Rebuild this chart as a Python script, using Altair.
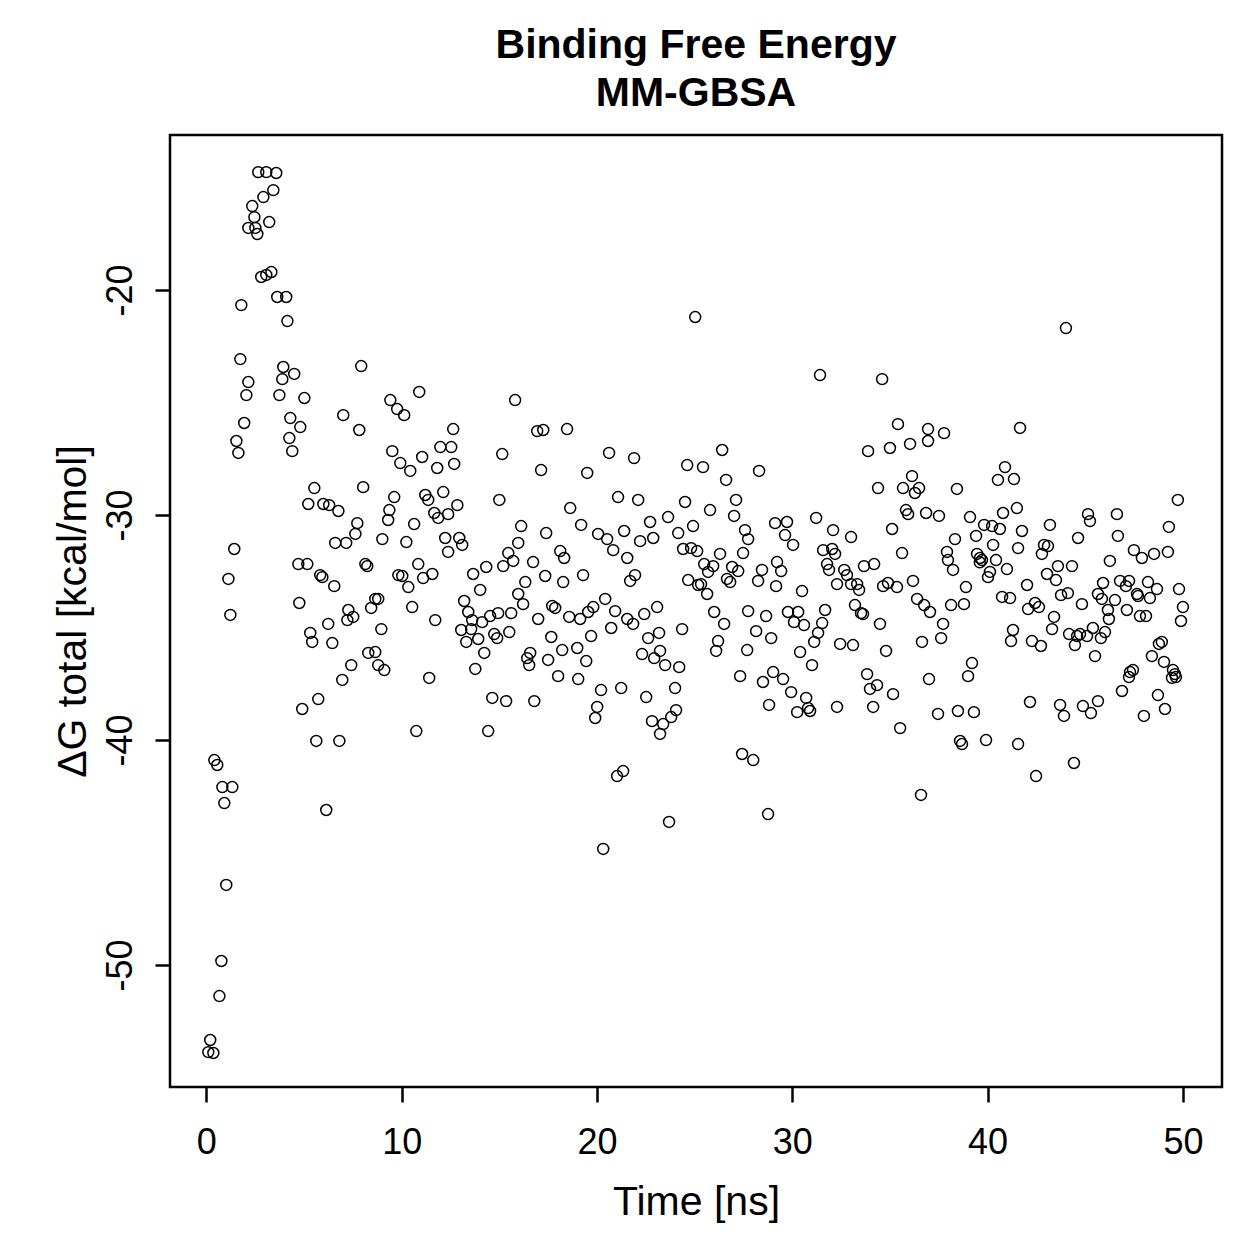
import altair as alt
import pandas as pd

# Time [ns] and ΔG total [kcal/mol]
time_ns = [
    0.20, 0.10, 0.36, 0.67, 0.77, 1.02, 0.92, 0.82, 1.33, 0.41, 0.56, 1.13, 1.23, 1.43, 1.54, 1.64,
    1.79, 1.74, 1.94, 2.05, 2.15, 2.66, 3.07, 3.58, 3.43, 2.92, 2.35, 2.46, 3.22, 2.15, 2.51, 2.61,
    2.81, 3.07, 3.33, 3.63, 4.09, 4.15, 3.94, 3.89, 4.50, 3.74, 5.02, 4.30, 4.81, 4.25, 4.40, 4.71,
    5.17, 4.76, 4.91,
    7.93, 7.01, 7.83, 5.53, 8.03, 5.22, 5.99, 6.29, 6.76, 7.73, 7.63, 6.60, 7.16, 9.01, 5.83, 5.94,
    6.55, 8.14, 8.24, 7.27, 7.22, 7.52, 8.44, 8.65, 8.80, 6.24, 5.32, 5.42, 6.45, 8.96, 8.29, 8.65,
    8.80, 9.11, 7.42, 6.96, 5.73, 5.63, 6.81, 6.14,
    10.90, 9.42, 9.77, 10.13, 12.64, 11.98, 12.54, 9.52, 9.93, 10.44, 11.05, 11.82, 12.69, 9.62,
    11.21, 11.36, 12.13, 9.37, 9.31, 10.64, 11.67, 11.87, 12.38, 12.85, 10.24, 12.23, 12.38, 12.95,
    13.10, 10.85, 9.83, 10.03, 10.34, 11.10, 11.57, 13.66, 10.54, 11.72, 13.20, 13.41, 13.61, 13.56,
    13.05, 13.31, 13.92, 11.41, 13.77, 10.75,
    15.81, 16.94, 17.25, 18.47, 15.15, 17.14, 15.00, 18.63, 16.12, 17.40, 15.97, 15.46, 15.71, 15.20,
    14.33, 18.12, 18.32, 16.73, 16.33, 17.35, 18.27, 15.97, 16.22, 14.02, 15.61, 14.94, 14.53, 14.12,
    16.99, 17.71, 17.86, 18.58, 14.74, 14.89, 15.51, 17.66, 14.23, 16.58, 16.43, 16.53, 17.50, 18.22,
    18.01, 14.64, 15.35, 16.79, 14.43,
    20.62, 21.90, 19.50, 21.08, 22.11, 19.19, 22.72, 20.06, 20.52, 20.83, 21.39, 22.21, 22.88, 21.55,
    21.95, 21.70, 19.29, 20.42, 20.93, 19.81, 19.55, 19.14, 20.73, 19.70, 21.55, 21.85, 22.42, 23.08,
    22.62, 23.18, 22.31, 22.93, 18.99, 19.45, 19.04, 20.21, 21.24, 22.52, 20.01, 19.91, 22.82, 23.23,
    21.34, 21.03, 20.32,
    25.03, 26.41, 24.62, 25.43, 26.61, 24.51, 27.12, 27.02, 25.79, 23.64, 24.16, 24.92, 27.58, 27.74,
    24.41, 24.82, 25.13, 26.30, 27.48, 25.49, 25.95, 25.69, 26.92, 27.23, 24.67, 25.18, 25.33, 25.64,
    26.66, 26.82, 26.00, 26.51, 27.74, 24.36, 23.23, 23.49, 24.21, 26.20, 26.10, 27.69, 24.00, 27.33,
    24.05, 23.80, 23.39, 27.43, 23.69,
    31.42, 28.30, 29.12, 29.73, 31.22, 29.63, 30.04, 32.09, 31.58, 32.04, 32.19, 31.78, 31.88, 29.22,
    29.43, 28.45, 28.25, 29.17, 30.50, 32.29, 28.66, 29.78, 30.30, 30.09, 30.60, 31.68, 31.53, 31.32,
    31.12, 28.15, 28.92, 30.40, 31.01, 32.45, 29.02, 29.53, 28.50, 29.94, 30.71, 30.81, 30.91, 30.25,
    28.81, 32.29, 28.00, 28.76,
    34.60, 35.41, 36.95, 36.95, 33.88, 35.00, 36.03, 36.13, 34.39, 35.67, 36.28, 36.49, 35.82, 35.93,
    36.85, 35.11, 33.01, 35.62, 33.67, 34.19, 32.66, 32.80, 33.01, 33.32, 33.42, 34.65, 34.90, 35.36,
    36.18, 36.39, 36.75, 37.05, 33.21, 33.52, 33.62, 34.49, 33.11, 34.80, 36.64, 33.83, 33.98, 34.34,
    35.16, 37.00, 34.14, 35.52, 36.59,
    37.77, 41.66, 40.89, 40.53, 41.35, 38.43, 37.51, 39.10, 40.79, 41.50, 39.82, 40.23, 40.63, 39.41,
    38.33, 41.76, 41.56, 40.28, 37.92, 37.97, 38.23, 39.46, 39.61, 39.71, 39.60, 40.43, 40.12, 40.02,
    40.99, 38.89, 40.74, 41.15, 38.13, 38.79, 37.72, 37.62, 41.30, 41.20, 39.20, 39.00, 37.46, 38.48,
    39.30, 38.59, 38.69, 39.92, 41.56,
    44.01, 43.19, 45.14, 45.24, 44.63, 42.89, 43.09, 42.78, 43.60, 44.32, 43.04, 43.50, 42.02, 43.76,
    44.11, 44.83, 42.43, 42.63, 42.07, 46.26, 45.91, 45.65, 45.85, 46.16, 46.21, 43.40, 43.30, 44.17,
    44.58, 44.73, 45.09, 44.47, 45.39, 45.80, 46.01, 42.27, 42.73, 45.50, 42.17, 43.71, 43.91, 44.88,
    45.29, 45.65, 42.48, 44.42,
    49.74, 46.62, 49.28, 46.67, 47.49, 47.90, 48.52, 49.23, 46.78, 47.08, 47.24, 48.21, 48.67, 47.65,
    47.70, 48.31, 49.80, 46.52, 47.13, 47.80, 48.11, 50.00, 49.90, 48.41, 48.77, 48.92, 49.03, 49.49,
    49.59, 49.44, 49.64, 47.29, 47.44, 47.24, 46.88, 48.72, 49.08, 48.00,
]

delta_g = [
    -53.33, -53.87, -53.91, -51.38, -49.82, -46.44, -42.80, -42.09, -42.09, -40.89, -41.11, -32.84,
    -34.44, -31.51, -26.71, -27.24, -20.67, -23.07, -25.91, -24.67, -24.09, -14.76, -14.76, -14.80,
    -15.56, -15.87, -16.27, -16.76, -16.98, -17.24, -17.24, -17.51, -19.42, -19.33, -19.20, -20.31,
    -20.31, -21.38, -23.42, -23.96, -23.73, -24.67, -24.80, -25.69, -26.09, -26.58, -27.16, -32.18,
    -32.18, -33.91, -38.62,
    -23.38, -25.56, -26.22, -28.80, -28.76, -29.51, -29.51, -29.56, -29.82, -30.36, -30.84, -31.24,
    -31.24, -31.07, -32.67, -32.76, -33.16, -32.18, -32.27, -34.22, -34.67, -34.53, -34.13, -33.73,
    -33.73, -34.84, -35.24, -35.64, -35.69, -35.07, -36.13, -36.09, -36.67, -36.89, -36.67, -37.33,
    -38.18, -40.04, -40.04, -43.11,
    -24.53, -24.89, -25.29, -25.56, -26.18, -26.98, -26.98, -27.16, -27.69, -28.04, -27.42, -27.91,
    -27.73, -29.20, -29.11, -29.33, -28.98, -29.78, -30.22, -30.40, -29.91, -30.13, -29.96, -29.56,
    -31.20, -31.02, -31.64, -31.02, -31.33, -32.18, -32.67, -32.71, -33.20, -32.80, -32.62, -32.62,
    -34.09, -34.67, -33.82, -34.31, -34.67, -35.07, -35.11, -35.64, -35.51, -37.24, -36.84, -39.60,
    -24.89, -26.27, -26.22, -26.18, -27.29, -28.00, -29.33, -29.69, -30.49, -30.80, -31.24, -31.69,
    -32.04, -32.27, -32.31, -31.60, -31.91, -32.09, -32.98, -32.71, -32.98, -33.51, -33.96, -33.33,
    -34.36, -34.36, -34.49, -34.76, -34.62, -34.04, -34.13, -34.53, -35.29, -35.47, -35.20, -35.42,
    -36.13, -36.13, -36.36, -36.67, -36.44, -36.00, -37.16, -38.13, -38.27, -38.27, -39.60,
    -27.24, -27.47, -28.13, -29.20, -29.33, -30.44, -30.31, -30.84, -31.07, -31.56, -30.71, -31.16,
    -31.02, -31.91, -32.67, -32.93, -32.67, -33.73, -34.27, -34.09, -34.31, -34.62, -35.02, -35.38,
    -34.62, -34.84, -34.40, -34.09, -35.47, -35.24, -36.18, -36.36, -35.91, -36.49, -37.29, -37.78,
    -37.69, -38.09, -38.53, -39.02, -39.16, -39.73, -41.38, -41.60, -44.84,
    -21.20, -27.11, -27.78, -27.87, -28.44, -29.42, -29.33, -30.04, -29.78, -30.09, -30.80, -30.49,
    -30.67, -31.07, -31.51, -31.47, -31.60, -31.73, -31.69, -32.18, -32.27, -32.53, -32.31, -32.49,
    -32.89, -33.11, -33.07, -33.51, -32.84, -32.98, -34.31, -34.84, -34.27, -35.07, -36.04, -36.67,
    -36.76, -35.60, -36.04, -36.00, -37.69, -37.16, -38.67, -38.98, -39.29, -40.62, -43.64,
    -23.78, -28.04, -30.36, -30.31, -30.13, -30.89, -31.33, -30.67, -31.56, -31.51, -31.73, -32.18,
    -32.44, -32.09, -32.49, -32.44, -32.93, -33.16, -33.38, -33.07, -34.49, -34.31, -34.31, -34.76,
    -34.89, -34.22, -34.80, -35.24, -35.64, -35.16, -35.47, -36.09, -36.67, -35.73, -36.98, -37.29,
    -37.42, -37.87, -38.13, -38.58, -38.71, -38.76, -38.44, -38.53, -40.89, -43.29,
    -23.96, -25.96, -26.18, -26.71, -27.16, -27.02, -26.84, -28.27, -28.80, -28.80, -29.02, -28.80,
    -29.78, -29.96, -29.91, -30.62, -30.98, -31.69, -32.27, -32.18, -32.44, -32.67, -33.07, -33.07,
    -33.33, -33.16, -33.02, -33.20, -32.93, -33.73, -34.00, -34.31, -34.00, -34.36, -34.40, -34.84,
    -35.78, -36.04, -35.64, -37.07, -37.73, -37.56, -37.96, -37.29, -38.53, -39.47, -42.44,
    -26.36, -26.13, -27.87, -28.44, -28.40, -28.84, -30.04, -30.09, -29.91, -29.69, -30.44, -30.49,
    -30.62, -30.93, -31.07, -30.71, -31.47, -31.33, -31.64, -32.00, -32.44, -31.73, -31.91, -32.00,
    -32.10, -32.00, -32.53, -32.76, -32.40, -33.20, -33.64, -33.69, -34.00, -33.96, -34.84, -35.47,
    -35.11, -35.60, -36.58, -37.16, -38.84, -38.71, -38.76, -40.04, -40.18, -40.00, -40.18,
    -21.69, -30.44, -29.96, -30.27, -31.02, -31.33, -31.38, -31.73, -32.27, -32.27, -32.62, -32.89,
    -33.11, -33.56, -33.47, -33.96, -33.91, -34.09, -34.18, -32.04, -33.02, -33.51, -33.73, -34.22,
    -34.62, -34.53, -35.07, -35.29, -35.38, -35.29, -35.38, -35.78, -35.02, -35.47, -35.20, -35.60,
    -35.82, -36.27, -38.31, -38.44, -38.93, -38.49, -38.80, -38.27, -41.60, -41.02,
    -29.33, -29.96, -30.53, -30.93, -31.56, -31.91, -31.73, -31.64, -32.93, -33.16, -32.93, -32.98,
    -33.29, -33.51, -33.60, -33.69, -33.29, -33.78, -34.22, -34.49, -34.49, -34.09, -34.71, -36.27,
    -35.73, -35.64, -36.53, -36.89, -37.07, -37.24, -37.20, -36.98, -36.89, -37.20, -37.82, -38.00,
    -38.62, -38.93,
]

x_ticks = [0, 10, 20, 30, 40, 50]
y_ticks = [-50, -40, -30, -20]

df = pd.DataFrame({"time": time_ns, "dg": delta_g})

FONT = "Liberation Sans"

points = alt.Chart(df).mark_point(
    shape="circle", filled=False, color="black", size=120, strokeWidth=1.5, opacity=1
).encode(
    x=alt.X(
        "time:Q",
        scale=alt.Scale(domain=[-1.86, 52.0], nice=False, zero=False),
        axis=alt.Axis(
            values=x_ticks, title="Time [ns]", grid=False, domain=False,
            tickSize=15, tickWidth=2.5, tickColor="black",
            labelFontSize=36, titleFontSize=41, labelFont=FONT, titleFont=FONT,
            labelColor="black", titleColor="black", titleFontWeight="normal",
            labelPadding=23, titlePadding=22, labelFlush=False,
            labelExpr="'' + datum.value",
        ),
    ),
    y=alt.Y(
        "dg:Q",
        scale=alt.Scale(domain=[-55.42, -13.11], nice=False, zero=False),
        axis=alt.Axis(
            values=y_ticks, title="ΔG total [kcal/mol]", grid=False, domain=False,
            tickSize=15, tickWidth=2.5, tickColor="black",
            labelFontSize=36, titleFontSize=41, labelFont=FONT, titleFont=FONT,
            labelColor="black", titleColor="black", titleFontWeight="normal",
            labelAngle=270, labelAlign="center", labelBaseline="bottom",
            labelPadding=16, titlePadding=8, labelFlush=False,
            labelExpr="'' + datum.value",
        ),
    ),
)

chart = points.properties(
    width=1052,
    height=952,
    title=alt.TitleParams(
        text=["Binding Free Energy", "MM-GBSA"],
        fontSize=41, fontWeight="bold", font=FONT, color="black",
        anchor="middle", lineHeight=48, offset=20,
    ),
    autosize=alt.AutoSizeParams(type="none"),
    padding={"left": 170, "top": 135, "right": 37, "bottom": 172},
).configure_view(
    stroke="black", strokeWidth=2.5
)

chart.save("out.html", embed_options={"renderer": "svg", "actions": False})
